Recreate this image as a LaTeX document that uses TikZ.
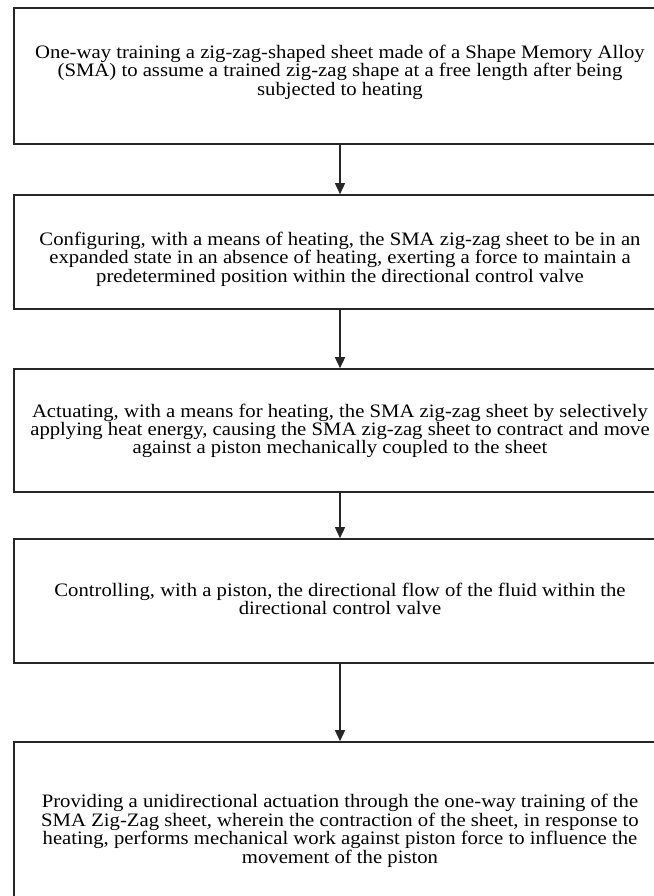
\documentclass[tikz,border=0pt]{standalone}
\usepackage{fontspec}
\setmainfont[FakeStretch=1.09]{Liberation Serif}
\usetikzlibrary{arrows.meta}
\newcommand{\steptext}[2]{\raisebox{#1pt}[0pt][0pt]{\begin{tabular}{@{}c@{}}#2\end{tabular}}}
\begin{document}
\begin{tikzpicture}[x=1pt,y=-1pt,
  stepbox/.style={draw=black!85, line width=1.6pt, minimum width=652pt,
    font=\fontsize{19}{17}\selectfont, inner sep=0pt},
  flow/.style={draw=black!85, line width=1.4pt, -{Triangle[length=11pt,width=10pt]}}]
\useasboundingbox (0,0) rectangle (653,896);
\node[stepbox, minimum height=136pt] (b1) at (340,76)
  {\steptext{-1}{One-way training a zig-zag-shaped sheet made of a Shape Memory Alloy\\
   (SMA) to assume a trained zig-zag shape at a free length after being\\
   subjected to heating}};
\node[stepbox, minimum height=114pt] (b2) at (340,252)
  {\steptext{-12}{Configuring, with a means of heating, the SMA zig-zag sheet to be in an\\
   expanded state in an absence of heating, exerting a force to maintain a\\
   predetermined position within the directional control valve}};
\node[stepbox, minimum height=123pt] (b3) at (340,430.5)
  {\steptext{-5}{Actuating, with a means for heating, the SMA zig-zag sheet by selectively\\
   applying heat energy, causing the SMA zig-zag sheet to contract and move\\
   against a piston mechanically coupled to the sheet}};
\node[stepbox, minimum height=124pt] (b4) at (340,601)
  {\steptext{-5}{Controlling, with a piston, the directional flow of the fluid within the\\
   directional control valve}};
\node[stepbox, minimum height=171pt] (b5) at (340,827.5)
  {\steptext{-8}{Providing a unidirectional actuation through the one-way training of the\\
   SMA Zig-Zag sheet, wherein the contraction of the sheet, in response to\\
   heating, performs mechanical work against piston force to influence the\\
   movement of the piston}};
\draw[flow] (b1.south) -- (b2.north);
\draw[flow] (b2.south) -- (b3.north);
\draw[flow] (b3.south) -- (b4.north);
\draw[flow] (b4.south) -- (b5.north);
\end{tikzpicture}
\end{document}
